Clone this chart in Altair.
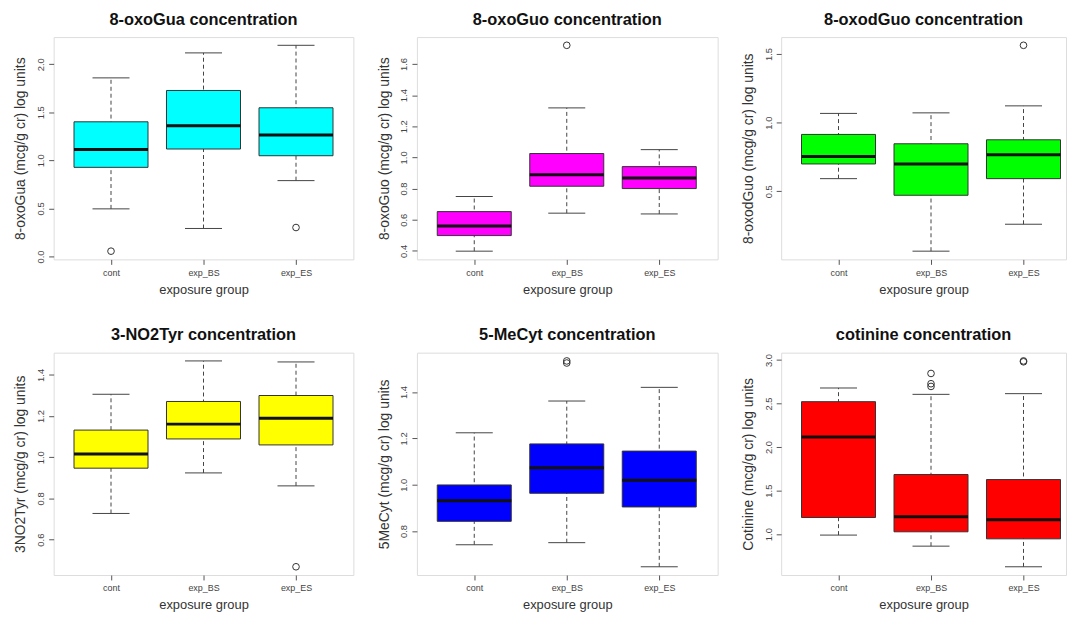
import altair as alt
import pandas as pd

groups = ["cont", "exp_BS", "exp_ES"]
positions = [1, 2, 3]

titles = ["8-oxoGua concentration", "8-oxoGuo concentration", "8-oxodGuo concentration",
          "3-NO2Tyr concentration", "5-MeCyt concentration", "cotinine concentration"]
ylabels = ["8-oxoGua (mcg/g cr) log units", "8-oxoGuo (mcg/g cr) log units",
           "8-oxodGuo (mcg/g cr) log units", "3NO2Tyr (mcg/g cr) log units",
           "5MeCyt (mcg/g cr) log units", "Cotinine (mcg/g cr) log units"]
colors = ["#00FFFF", "#FF00FF", "#00FF00", "#FFFF00", "#0000FF", "#FF0000"]

# box statistics per panel: one value per group (cont, exp_BS, exp_ES)
oxoGua_low = [0.495, 0.291, 0.789]
oxoGua_q1 = [0.927, 1.118, 1.048]
oxoGua_med = [1.114, 1.360, 1.263]
oxoGua_q3 = [1.401, 1.727, 1.547]
oxoGua_high = [1.858, 2.118, 2.197]
oxoGua_out_group = ["cont", "exp_ES"]
oxoGua_out_value = [0.055, 0.301]

oxoGuo_low = [0.398, 0.642, 0.637]
oxoGuo_q1 = [0.498, 0.815, 0.800]
oxoGuo_med = [0.560, 0.888, 0.868]
oxoGuo_q3 = [0.652, 1.025, 0.941]
oxoGuo_high = [0.749, 1.318, 1.050]
oxoGuo_out_group = ["exp_BS"]
oxoGuo_out_value = [1.720]

oxodGuo_low = [0.592, 0.064, 0.260]
oxodGuo_q1 = [0.699, 0.471, 0.592]
oxodGuo_med = [0.754, 0.699, 0.766]
oxodGuo_q3 = [0.914, 0.846, 0.875]
oxodGuo_high = [1.067, 1.071, 1.122]
oxodGuo_out_group = ["exp_ES"]
oxodGuo_out_value = [1.563]

no2tyr_low = [0.727, 0.924, 0.861]
no2tyr_q1 = [0.947, 1.089, 1.060]
no2tyr_med = [1.016, 1.161, 1.189]
no2tyr_q3 = [1.132, 1.271, 1.300]
no2tyr_high = [1.306, 1.468, 1.463]
no2tyr_out_group = ["exp_ES"]
no2tyr_out_value = [0.468]

mecyt_low = [0.741, 0.750, 0.646]
mecyt_q1 = [0.842, 0.963, 0.904]
mecyt_med = [0.931, 1.073, 1.019]
mecyt_q3 = [0.999, 1.176, 1.145]
mecyt_high = [1.224, 1.361, 1.420]
mecyt_out_group = ["exp_BS", "exp_BS"]
mecyt_out_value = [1.534, 1.525]

cot_low = [0.989, 0.862, 0.625]
cot_q1 = [1.191, 1.027, 0.946]
cot_med = [2.117, 1.199, 1.164]
cot_q3 = [2.522, 1.685, 1.627]
cot_high = [2.679, 2.606, 2.614]
cot_out_group = ["exp_BS", "exp_BS", "exp_BS", "exp_ES", "exp_ES"]
cot_out_value = [2.846, 2.728, 2.697, 2.990, 2.980]

yticks = [
    [0.0, 0.5, 1.0, 1.5, 2.0],
    [0.4, 0.6, 0.8, 1.0, 1.2, 1.4, 1.6],
    [0.5, 1.0, 1.5],
    [0.6, 0.8, 1.0, 1.2, 1.4],
    [0.8, 1.0, 1.2, 1.4],
    [1.0, 1.5, 2.0, 2.5, 3.0],
]

stats = [
    (oxoGua_low, oxoGua_q1, oxoGua_med, oxoGua_q3, oxoGua_high, oxoGua_out_group, oxoGua_out_value),
    (oxoGuo_low, oxoGuo_q1, oxoGuo_med, oxoGuo_q3, oxoGuo_high, oxoGuo_out_group, oxoGuo_out_value),
    (oxodGuo_low, oxodGuo_q1, oxodGuo_med, oxodGuo_q3, oxodGuo_high, oxodGuo_out_group, oxodGuo_out_value),
    (no2tyr_low, no2tyr_q1, no2tyr_med, no2tyr_q3, no2tyr_high, no2tyr_out_group, no2tyr_out_value),
    (mecyt_low, mecyt_q1, mecyt_med, mecyt_q3, mecyt_high, mecyt_out_group, mecyt_out_value),
    (cot_low, cot_q1, cot_med, cot_q3, cot_high, cot_out_group, cot_out_value),
]

FONT = "Liberation Sans"
H = 224
PX_PER_UNIT = 93.2
widths = [302, 303, 287]

label_expr = " : ".join(
    f"datum.value == {p} ? '{g}'" for p, g in zip(positions[:-1], groups[:-1])
) + f" : '{groups[-1]}'"


def panel(i, width):
    low, q1, med, q3, high, og, ov = stats[i]
    df = pd.DataFrame({"group": groups, "pos": positions, "low": low, "q1": q1,
                       "med": med, "q3": q3, "high": high})
    pos_map = dict(zip(groups, positions))
    dout = pd.DataFrame({"pos": [pos_map[g] for g in og], "value": ov})

    vals = low + high + ov
    rng = max(vals) - min(vals)
    ydom = [min(vals) - 0.04 * rng, max(vals) + 0.04 * rng]
    xdom = [0.38, 0.38 + width / PX_PER_UNIT]

    xscale = alt.Scale(domain=xdom, nice=False, zero=False)
    yscale = alt.Scale(domain=ydom, nice=False, zero=False)
    xaxis = alt.Axis(values=positions, labelExpr=label_expr, grid=False, domain=False,
                     tickSize=5, tickColor="#555", labelPadding=4, labelFontSize=9,
                     labelColor="#444", labelFont=FONT, titleFont=FONT, titleFontSize=13,
                     titleFontWeight="normal", titleColor="#333", titlePadding=6)
    yaxis = alt.Axis(values=yticks[i], format=".1f", grid=False, domain=False,
                     tickSize=5, tickColor="#555", labelPadding=3, labelFontSize=9.5,
                     labelAngle=270, labelAlign="center", labelBaseline="bottom",
                     labelColor="#444", labelFont=FONT, titleFont=FONT, titleFontSize=14,
                     titleFontWeight="normal", titleColor="#333", titlePadding=8)

    def X(f):
        return alt.X(f, scale=xscale, axis=xaxis, title="exposure group")

    def Y(f):
        return alt.Y(f, scale=yscale, axis=yaxis, title=ylabels[i])

    base = alt.Chart(df)
    whisker = base.mark_rule(color="#444", strokeDash=[4, 3], strokeWidth=1).encode(
        x=X("pos:Q"), y=Y("low:Q"), y2="high:Q")
    caps = base.transform_calculate(a="datum.pos - 0.2", b="datum.pos + 0.2")
    cap_low = caps.mark_rule(color="#444", strokeWidth=1).encode(
        x=X("a:Q"), x2="b:Q", y=Y("low:Q"))
    cap_high = caps.mark_rule(color="#444", strokeWidth=1).encode(
        x=X("a:Q"), x2="b:Q", y=Y("high:Q"))
    boxes = base.transform_calculate(a="datum.pos - 0.4", b="datum.pos + 0.4")
    box = boxes.mark_rect(color=colors[i], stroke="#333", strokeWidth=1).encode(
        x=X("a:Q"), x2="b:Q", y=Y("q1:Q"), y2="q3:Q")
    median = boxes.mark_rule(color="#111", strokeWidth=3).encode(
        x=X("a:Q"), x2="b:Q", y=Y("med:Q"))
    outl = alt.Chart(dout).mark_point(shape="circle", filled=False, color="#333",
                                      size=45, strokeWidth=1, opacity=1).encode(
        x=X("pos:Q"), y=Y("value:Q"))

    return alt.layer(whisker, cap_low, cap_high, box, median, outl).properties(
        width=width, height=H,
        title=alt.TitleParams(titles[i], font=FONT, fontSize=16.5, fontWeight="bold",
                              color="#111", anchor="middle", frame="group", offset=9))


row1 = alt.hconcat(*[panel(k, widths[k]) for k in range(3)], spacing=22)
row2 = alt.hconcat(*[panel(3 + k, widths[k]) for k in range(3)], spacing=22)
chart = alt.vconcat(row1, row2, spacing=30).properties(
    padding={"left": 5, "top": 1, "right": 0, "bottom": 0}
).configure_view(stroke="#555", strokeWidth=1.5).configure(background="white")

chart.save("out.html", embed_options={"renderer": "svg", "actions": False})
